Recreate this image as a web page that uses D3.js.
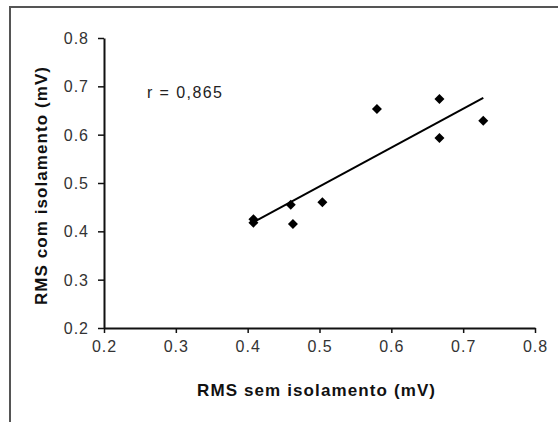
<!DOCTYPE html>
<html>
<head>
<meta charset="utf-8">
<script src="https://cdn.jsdelivr.net/npm/d3@7"></script>
<style>
  body { margin: 0; background: #fff; }
  svg { display: block; font-family: Arial, "Liberation Sans", sans-serif; }
</style>
</head>
<body>
<div id="chart"></div>
<script>
// values
const semIsolamento = [0.408, 0.408, 0.460, 0.463, 0.504, 0.580, 0.667, 0.667, 0.728];
const comIsolamento = [0.425, 0.418, 0.455, 0.415, 0.460, 0.653, 0.674, 0.593, 0.629];
const trendX = [0.408, 0.728];
const trendY = [0.419, 0.676];
const xTicks = [0.2, 0.3, 0.4, 0.5, 0.6, 0.7, 0.8];
const yTicks = [0.2, 0.3, 0.4, 0.5, 0.6, 0.7, 0.8];
const rLabel = "r = 0,865";

const width = 558, height = 422;

const svg = d3.select("#chart")
  .append("svg")
    .attr("width", width)
    .attr("height", height);

// outer chart frame (only top and left edges are in view)
svg.append("path")
  .attr("d", "M10,430 L10,7 L570,7")
  .attr("fill", "none")
  .attr("stroke", "#555")
  .attr("stroke-width", 2);

const x = d3.scaleLinear().domain([0.2, 0.8]).range([104, 535]);
const y = d3.scaleLinear().domain([0.2, 0.8]).range([328, 38]);

const fmt = d3.format(".1f");

// x axis
const gx = svg.append("g")
  .attr("transform", `translate(0,${y(0.2)})`)
  .call(d3.axisBottom(x).tickValues(xTicks).tickFormat(fmt).tickSize(5).tickSizeOuter(0));
gx.select(".domain").attr("stroke", "#111").attr("stroke-width", 2);
gx.selectAll(".tick line").attr("stroke", "#111").attr("stroke-width", 1.5);
gx.selectAll(".tick text")
  .attr("y", 24)
  .attr("dy", 0)
  .style("font-size", "16px")
  .style("letter-spacing", "1px")
  .attr("fill", "#333");

// y axis
const gy = svg.append("g")
  .attr("transform", `translate(${x(0.2)},0)`)
  .call(d3.axisLeft(y).tickValues(yTicks).tickFormat(fmt).tickSize(6).tickSizeOuter(0));
gy.select(".domain").attr("stroke", "#111").attr("stroke-width", 2);
gy.selectAll(".tick line").attr("stroke", "#111").attr("stroke-width", 1.5);
gy.selectAll(".tick text")
  .attr("x", -15)
  .attr("dy", "0.35em")
  .style("font-size", "16px")
  .style("letter-spacing", "1px")
  .attr("fill", "#333");

// trend line
const pts = semIsolamento.map((v, i) => ({x: v, y: comIsolamento[i]}));
const trend = trendX.map((v, i) => ({x: v, y: trendY[i]}));

svg.append("path")
  .datum(trend)
  .attr("fill", "none")
  .attr("stroke", "#000")
  .attr("stroke-width", 2)
  .attr("d", d3.line().x(d => x(d.x)).y(d => y(d.y)));

// diamonds
svg.append("g")
  .selectAll("path")
  .data(pts)
  .join("path")
    .attr("d", d3.symbol().type(d3.symbolSquare).size(50))
    .attr("transform", d => `translate(${x(d.x)},${y(d.y)}) rotate(45)`)
    .attr("fill", "#000");

// correlation label
svg.append("text")
  .attr("x", 147)
  .attr("y", 98)
  .attr("textLength", 75)
  .attr("lengthAdjust", "spacing")
  .style("font-size", "16px")
  .attr("fill", "#222")
  .text(rLabel);

// axis titles
svg.append("text")
  .attr("x", 316)
  .attr("y", 396)
  .attr("text-anchor", "middle")
  .attr("textLength", 238)
  .attr("lengthAdjust", "spacing")
  .style("font-size", "17px")
  .style("font-weight", "bold")
  .attr("fill", "#111")
  .text("RMS sem isolamento (mV)");

svg.append("text")
  .attr("transform", "translate(47,186) rotate(-90)")
  .attr("text-anchor", "middle")
  .attr("textLength", 238)
  .attr("lengthAdjust", "spacing")
  .style("font-size", "17px")
  .style("font-weight", "bold")
  .attr("fill", "#111")
  .text("RMS com isolamento (mV)");
</script>
</body>
</html>
